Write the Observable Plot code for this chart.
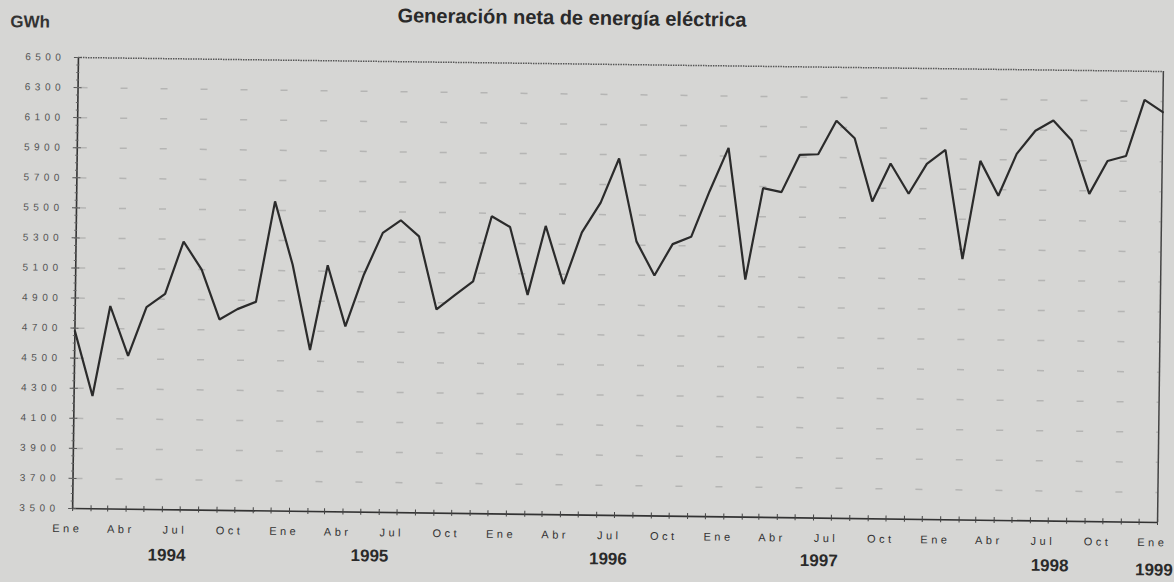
<!DOCTYPE html>
<html>
<head>
<meta charset="utf-8">
<script src="https://cdn.jsdelivr.net/npm/d3@7"></script>
<script src="https://cdn.jsdelivr.net/npm/@observablehq/plot@0.6"></script>
<style>
  html, body { margin: 0; padding: 0; background: #d6d6d4; overflow: hidden; }
  #wrap { position: relative; width: 1174px; height: 582px; transform: rotate(0.74deg); transform-origin: 617.5px 289px; font-family: "Liberation Sans", Arial, sans-serif; }
  #title { position: absolute; left: 0; width: 1137px; top: 6px; text-align: center; font-weight: bold; font-size: 20px; line-height: 24px; color: #2a2a2a; }
  #unit { position: absolute; left: 7px; top: 21px; font-weight: bold; font-size: 17px; line-height: 17px; color: #333; }
  #chart { position: absolute; left: 0; top: 0; }
  #chart g[aria-label="x-axis tick label"] text { letter-spacing: 3.5px; }
  #chart g[aria-label="y-axis tick label"] text { letter-spacing: 4.5px; }
</style>
</head>
<body>
<div id="wrap">
  <div id="chart"></div>
  <div id="title">Generación neta de energía eléctrica</div>
  <div id="unit">GWh</div>
</div>
<script>
// Monthly net electricity generation (GWh), Jan 1994 – Jan 1999
const values = [
  4680, 4250, 4850, 4520, 4845, 4935, 5285, 5100, 4770, 4840, 4890, 5560, // 1994
  5140, 4575, 5140, 4735, 5080, 5360, 5445, 5340, 4855, 4950, 5045, 5480, // 1995
  5410, 4960, 5420, 5035, 5380, 5580, 5875, 5325, 5100, 5310, 5360, 5665, // 1996
  5955, 5080, 5690, 5665, 5915, 5920, 6145, 6030, 5610, 5865, 5665, 5865, // 1997
  5960, 5235, 5890, 5660, 5940, 6095, 6165, 6035, 5680, 5900, 5935, 6310, // 1998
  6230                                                                    // 1999
];
const months = d3.utcMonth.range(new Date(Date.UTC(1994, 0, 1)), new Date(Date.UTC(1999, 0, 2)));
const monthLabels = ["Ene", "Abr", "Jul", "Oct"];
const years = ["1994", "1995", "1996", "1997", "1998", "1999"];
const yTicks = [3500, 3700, 3900, 4100, 4300, 4500, 4700, 4900, 5100, 5300, 5500, 5700, 5900, 6100, 6300, 6500];
const yGrid = [3700, 3900, 4100, 4300, 4500, 4700, 4900, 5100, 5300, 5500, 5700, 5900, 6100, 6300];

// layout for the year captions (placed under mid-year, nudged like the original)
const yearAt = (y, i) => i === years.length - 1 ? new Date(Date.UTC(+y, 0, 1)) : new Date(Date.UTC(+y, 6, 1));
const yearDx = [-13, -27, -6, -12, 2, -3];
const yearDy = [51, 49, 49, 48, 50, 53];

const series = values.map((v, i) => ({date: months[i], value: v}));
const quarters = months.filter((d, i) => i % 3 === 0);
const minorTicks = d3.range(3500, 6501, 50);

const ink = "#3a3a3a";
const chart = Plot.plot({
  width: 1174,
  height: 582,
  marginLeft: 75,
  marginRight: 14,
  marginTop: 64,
  marginBottom: 67,
  style: {background: "transparent", fontFamily: "'Liberation Sans', Arial, sans-serif", overflow: "visible", color: ink},
  x: {type: "utc", domain: [months[0], months[months.length - 1]]},
  y: {domain: [3500, 6500]},
  marks: [
    Plot.ruleY(yGrid, {stroke: "#8f8f8f", strokeOpacity: 0.45, strokeWidth: 1.5, strokeDasharray: "7,33", strokeDashoffset: -3}),
    Plot.ruleY([6500], {stroke: "#555", strokeWidth: 1.5, strokeDasharray: "1.5,1"}),
    Plot.ruleX([months[months.length - 1]], {stroke: "#444", strokeWidth: 1.5}),
    Plot.ruleX([months[0]], {stroke: "#333", strokeWidth: 1.6}),
    Plot.ruleY([3500], {stroke: "#333", strokeWidth: 1.6}),
    Plot.axisY({ticks: yTicks, tickSize: 8, dx: 4, fill: "none", stroke: "#555", label: null}),
    Plot.axisY({ticks: minorTicks, tickSize: 3, dx: 1.5, fill: "none", stroke: "#666", label: null}),
    Plot.axisY({ticks: yTicks, tickSize: 0, tickPadding: 13, fontSize: 10, fill: "#555", label: null, tickFormat: d => String(d)}),
    Plot.axisX({ticks: months, tickSize: 6, dy: -3, fill: "none", stroke: "#444", label: null}),
    Plot.axisX({ticks: quarters, tickSize: 0, tickPadding: 16, fontSize: 11, fill: "#333", dx: -5, label: null,
      tickFormat: d => monthLabels[d.getUTCMonth() / 3]}),
    ...years.map((y, i) => Plot.text([y], {
      x: () => yearAt(y, i), frameAnchor: "bottom", dx: yearDx[i], dy: yearDy[i],
      text: d => d, fontWeight: "bold", fontSize: 17, fill: "#2a2a2a"
    })),
    Plot.line(series, {x: "date", y: "value", stroke: "#2b2b2b", strokeWidth: 2.2, strokeLinejoin: "miter"})
  ]
});
document.getElementById("chart").appendChild(chart);
</script>
</body>
</html>
